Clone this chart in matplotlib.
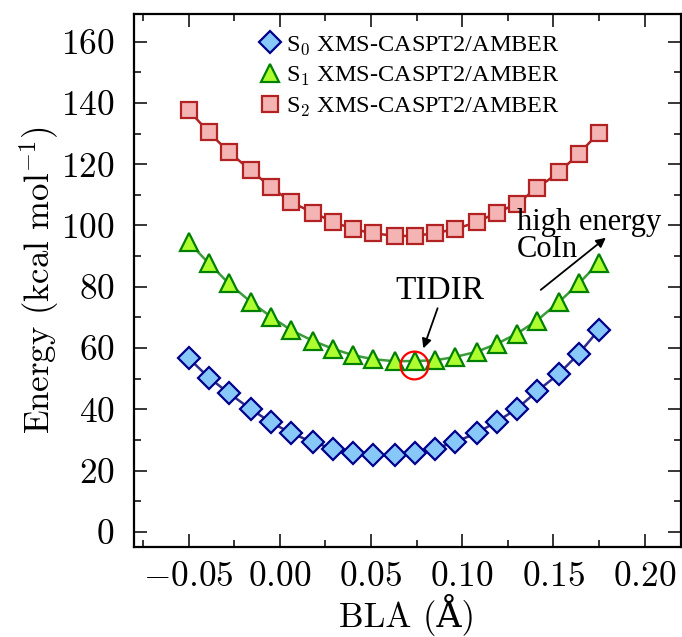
import matplotlib
matplotlib.use("Agg")
import matplotlib.pyplot as plt
from matplotlib.ticker import MultipleLocator

plt.rcParams['font.family'] = 'serif'
plt.rcParams['font.serif'] = ['cmr10']
plt.rcParams['mathtext.fontset'] = 'cm'
plt.rcParams['axes.formatter.use_mathtext'] = True

bla = [-0.050, -0.039, -0.028, -0.016, -0.005, 0.006, 0.018, 0.029, 0.040, 0.051,
       0.063, 0.074, 0.085, 0.096, 0.108, 0.119, 0.130, 0.141, 0.153, 0.164, 0.175]
s0 = [56.7, 50.4, 45.3, 40.1, 35.8, 32.3, 29.3, 27.2, 25.8, 25.0,
      25.0, 25.8, 27.2, 29.3, 32.3, 36.0, 40.2, 45.9, 51.6, 58.2, 66.0]
s1 = [94.5, 87.7, 81.1, 75.1, 70.3, 65.9, 62.4, 59.8, 57.7, 56.4,
      55.7, 55.8, 56.0, 57.1, 58.8, 61.4, 64.7, 69.0, 75.0, 81.1, 87.9]
s2 = [137.6, 130.4, 124.0, 118.0, 112.6, 107.7, 104.2, 101.3, 98.8, 97.5,
      96.6, 96.6, 97.5, 98.8, 101.1, 104.2, 107.1, 112.2, 117.3, 123.4, 130.3]
labels = ['S$_0$ XMS-CASPT2/AMBER', 'S$_1$ XMS-CASPT2/AMBER', 'S$_2$ XMS-CASPT2/AMBER']
tidir_x, tidir_y = 0.0738, 55.8

serif_t = ['Liberation Serif', 'DejaVu Serif']

fig = plt.figure(figsize=(6.82, 6.37), dpi=100)
ax = fig.add_axes([0.1965, 0.1408, 0.8020, 0.8372])

ax.plot(bla, s0, '-', color='#2e2e8c', lw=1.8, zorder=2)
ax.plot(bla, s1, '-', color='#3c9c3c', lw=1.8, zorder=2)
ax.plot(bla, s2, '-', color='#b22222', lw=1.8, zorder=2)
h0, = ax.plot(bla, s0, 'D', ms=11.5, mfc='#87c8f8', mec='#00008b', mew=1.6, ls='none', label=labels[0], zorder=3)
h1, = ax.plot(bla, s1, '^', ms=13, mfc='#adff2f', mec='#008000', mew=1.6, ls='none', label=labels[1], zorder=3)
h2, = ax.plot(bla, s2, 's', ms=11.5, mfc='#f4b4b4', mec='#b22222', mew=1.6, ls='none', label=labels[2], zorder=3)

ax.plot([tidir_x], [tidir_y - 1.2], 'o', ms=20, mfc='none', mec='red', mew=1.6, zorder=4)
ax.text(0.0875, 78.8, 'TIDIR', fontsize=24, ha='center', va='center', family=serif_t)
ax.annotate('', xy=(0.0787, 59.9), xytext=(0.0865, 73.0),
            arrowprops=dict(arrowstyle='-|>', color='black', lw=1.3, shrinkA=0, shrinkB=0,
                            mutation_scale=14))
ax.annotate('', xy=(0.1788, 96.0), xytext=(0.1431, 79.0),
            arrowprops=dict(arrowstyle='-|>', color='black', lw=1.3, shrinkA=0, shrinkB=0,
                            mutation_scale=14))
ax.text(0.130, 96.6, 'high energy\nCoIn', fontsize=22, ha='left', va='center',
        linespacing=0.9, multialignment='left', family=serif_t)

ax.set_xlim(-0.08, 0.22)
ax.set_ylim(-5, 169)
ax.xaxis.set_major_locator(MultipleLocator(0.05))
ax.xaxis.set_minor_locator(MultipleLocator(0.025))
ax.yaxis.set_major_locator(MultipleLocator(20))
ax.yaxis.set_minor_locator(MultipleLocator(10))
ax.tick_params(which='both', direction='in', top=True, right=True, labelsize=25.5)
ax.tick_params(which='major', length=9.5, width=1.1, pad=10)
ax.tick_params(which='minor', length=5, width=1.1)
ax.tick_params(axis='y', which='major', pad=14)
for sp in ax.spines.values():
    sp.set_linewidth(1.6)

ax.set_xlabel('BLA (Å)', fontsize=25, labelpad=1, family=['cmr10', 'DejaVu Serif'])
ax.set_ylabel('Energy (kcal mol$^{\\mathrm{-1}}$)', fontsize=25, labelpad=0)

ax.legend(handles=[h0, h1, h2], loc='upper left', bbox_to_anchor=(0.195, 0.995),
          frameon=False, prop={'family': serif_t, 'size': 17.5}, handlelength=1.0,
          handletextpad=0.15, labelspacing=0.32, borderaxespad=0.3, markerscale=1.0)

fig.savefig('out.png', dpi=100)
